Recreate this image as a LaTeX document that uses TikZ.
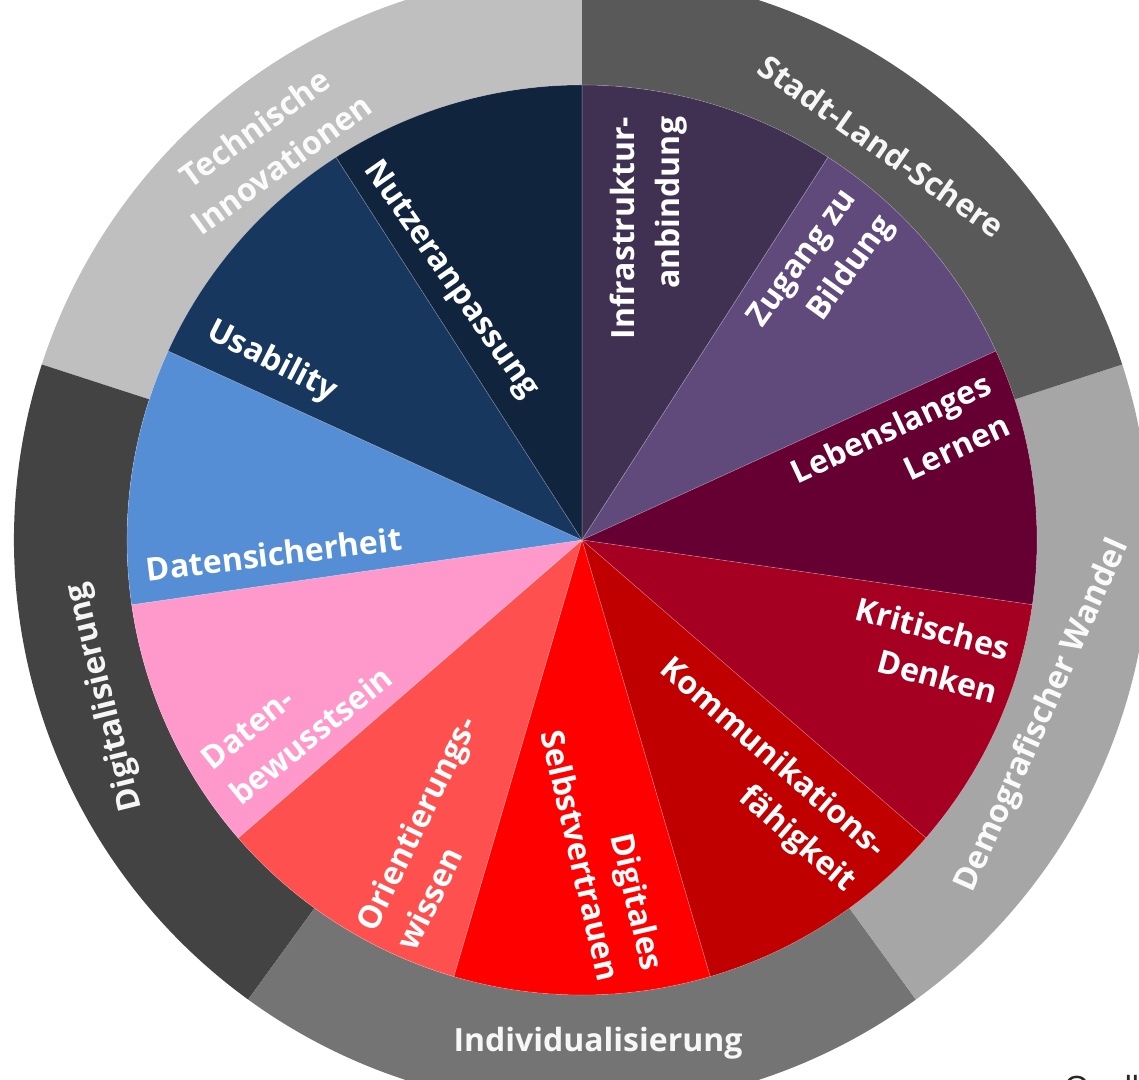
\documentclass[tikz,border=0pt]{standalone}
\usepackage{fontspec}
\setmainfont{Open Sans}
\newfontfamily\quellefont{Liberation Sans}

\newlength{\du}
\setlength{\du}{0.5pt}

\definecolor{infracolor}{HTML}{403152}
\definecolor{zugangcolor}{HTML}{604A7B}
\definecolor{lernencolor}{HTML}{660033}
\definecolor{kritischcolor}{HTML}{A50021}
\definecolor{kommcolor}{HTML}{C00000}
\definecolor{selbstcolor}{HTML}{FF0000}
\definecolor{orientcolor}{HTML}{FF5050}
\definecolor{bewusstcolor}{HTML}{FF99CC}
\definecolor{sicherheitcolor}{HTML}{558ED5}
\definecolor{usabilitycolor}{HTML}{17375E}
\definecolor{nutzercolor}{HTML}{10243E}
\definecolor{techcolor}{HTML}{BFBFBF}
\definecolor{stadtcolor}{HTML}{595959}
\definecolor{demografcolor}{HTML}{A6A6A6}
\definecolor{indivcolor}{HTML}{747474}
\definecolor{digitalcolor}{HTML}{434343}

\tikzset{
  piece/.style={draw=white, draw opacity=0.25, line width=0.6\du},
  innerlabel/.style={text=white, inner sep=0pt, font=\bfseries\fontsize{16}{22.5}\selectfont},
  ringlabel/.style={text=white, text opacity=0.95, inner sep=0pt, align=center, font=\bfseries\fontsize{16}{22.5}\selectfont},
}

\begin{document}
\begin{tikzpicture}
\useasboundingbox (-582\du,-540\du) rectangle (557\du,540\du);
\coordinate (hub) at (0,0);

% outer ring
\fill[techcolor] (90:455\du) arc[start angle=90, end angle=162, radius=455\du] -- (162:568\du) arc[start angle=162, end angle=90, radius=568\du] -- cycle;
\fill[digitalcolor] (162:455\du) arc[start angle=162, end angle=234, radius=455\du] -- (234:568\du) arc[start angle=234, end angle=162, radius=568\du] -- cycle;
\fill[indivcolor] (234:455\du) arc[start angle=234, end angle=306, radius=455\du] -- (306:568\du) arc[start angle=306, end angle=234, radius=568\du] -- cycle;
\fill[demografcolor] (-54:455\du) arc[start angle=-54, end angle=18, radius=455\du] -- (18:568\du) arc[start angle=18, end angle=-54, radius=568\du] -- cycle;
\fill[stadtcolor] (18:455\du) arc[start angle=18, end angle=90, radius=455\du] -- (90:568\du) arc[start angle=90, end angle=18, radius=568\du] -- cycle;

% pie
\filldraw[infracolor, piece] (hub) -- (90:455\du) arc[start angle=90, end angle=57.273, radius=455\du] -- cycle;
\filldraw[zugangcolor, piece] (hub) -- (57.273:455\du) arc[start angle=57.273, end angle=24.545, radius=455\du] -- cycle;
\filldraw[lernencolor, piece] (hub) -- (24.545:455\du) arc[start angle=24.545, end angle=-8.182, radius=455\du] -- cycle;
\filldraw[kritischcolor, piece] (hub) -- (-8.182:455\du) arc[start angle=-8.182, end angle=-40.909, radius=455\du] -- cycle;
\filldraw[kommcolor, piece] (hub) -- (-40.909:455\du) arc[start angle=-40.909, end angle=-73.636, radius=455\du] -- cycle;
\filldraw[selbstcolor, piece] (hub) -- (-73.636:455\du) arc[start angle=-73.636, end angle=-106.364, radius=455\du] -- cycle;
\filldraw[orientcolor, piece] (hub) -- (-106.364:455\du) arc[start angle=-106.364, end angle=-139.091, radius=455\du] -- cycle;
\filldraw[bewusstcolor, piece] (hub) -- (-139.091:455\du) arc[start angle=-139.091, end angle=-171.818, radius=455\du] -- cycle;
\filldraw[sicherheitcolor, piece] (hub) -- (-171.818:455\du) arc[start angle=-171.818, end angle=-204.545, radius=455\du] -- cycle;
\filldraw[usabilitycolor, piece] (hub) -- (-204.545:455\du) arc[start angle=-204.545, end angle=-237.273, radius=455\du] -- cycle;
\filldraw[nutzercolor, piece] (hub) -- (-237.273:455\du) arc[start angle=-237.273, end angle=-270, radius=455\du] -- cycle;

% labels in the pie
\node[innerlabel, rotate=90, align=right] (infra) at (67\du,312\du) {Infrastruktur-\\anbindung};
\node[innerlabel, rotate=54, align=right] (zugang) at (240\du,268\du) {Zugang zu\\Bildung};
\node[innerlabel, rotate=25, align=right] (lernen) at (318\du,92\du) {Lebenslanges\\Lernen};
\node[innerlabel, rotate=-15, align=right] (kritisch) at (345\du,-110\du) {Kritisches\\Denken};
\node[innerlabel, rotate=-41, align=right] (komm) at (175\du,-236\du) {Kommunikations-\\fähigkeit};
\node[innerlabel, rotate=-77, align=right] (selbst) at (21\du,-310\du) {Digitales\\Selbstvertrauen};
\node[innerlabel, rotate=64, align=left] (orient) at (-146\du,-293\du) {Orientierungs-\\wissen};
\node[innerlabel, rotate=39, align=left] (bewusst) at (-285\du,-178\du) {Daten-\\bewusstsein};
\node[innerlabel, rotate=7] (sicherheit) at (-308\du,-14\du) {Datensicherheit};
\node[innerlabel, rotate=-27] (usability) at (-310\du,178\du) {Usability};
\node[innerlabel, rotate=-55] (nutzer) at (-132\du,260\du) {Nutzeranpassung};

% labels in the ring
\node[ringlabel, rotate=36] (tech) at (-314\du,394\du) {Technische\\Innovationen};
\node[ringlabel, rotate=-35] (stadt) at (300\du,394\du) {Stadt-Land-Schere};
\node[ringlabel, rotate=66] (demograf) at (461\du,-176\du) {Demografischer Wandel};
\node[ringlabel, rotate=104] (digital) at (-477\du,-157\du) {Digitalisierung};
\node[ringlabel] (indiv) at (16\du,-503\du) {Individualisierung};

\node[anchor=north west, inner sep=0pt, font=\quellefont\fontsize{16}{19}\selectfont, text=black!85] (quelle) at (482\du,-535\du) {Quelle:};
\end{tikzpicture}
\end{document}
